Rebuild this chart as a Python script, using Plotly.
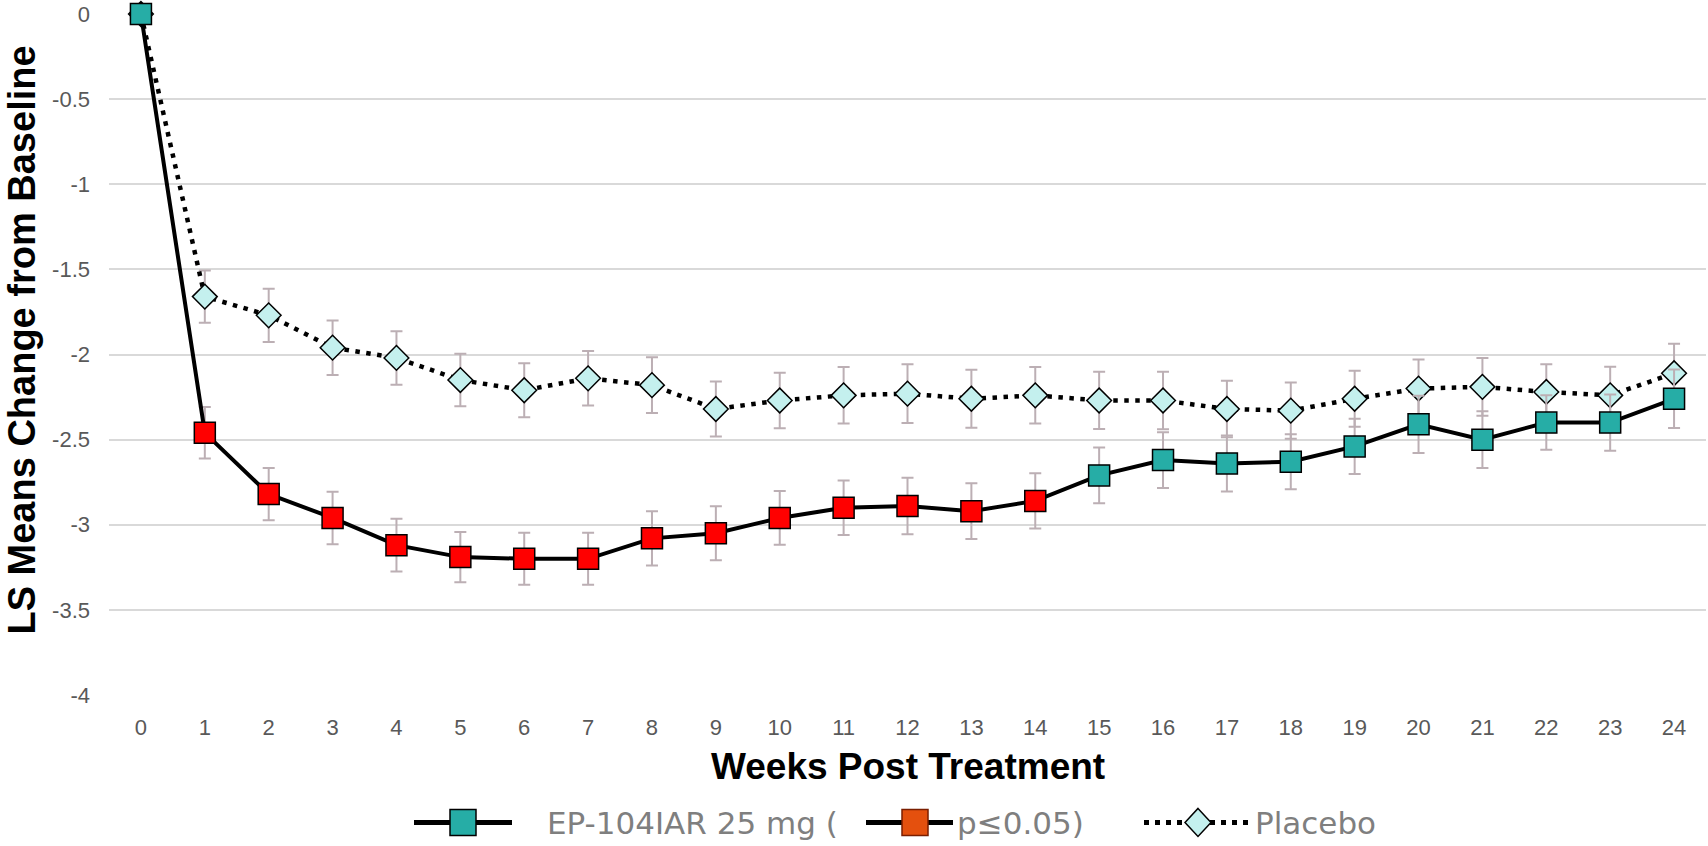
import plotly.graph_objects as go

# Weeks after treatment
weeks = list(range(25))

# EP-104IAR 25 mg: LS mean change from baseline and standard error
drug_mean = [0, -2.46, -2.82, -2.96, -3.12, -3.19, -3.20, -3.20, -3.08, -3.05,
             -2.96, -2.90, -2.89, -2.92, -2.86, -2.71, -2.62, -2.64, -2.63, -2.54,
             -2.41, -2.50, -2.40, -2.40, -2.26]
drug_se = [0, 0.151, 0.153, 0.154, 0.155, 0.148, 0.153, 0.153, 0.159, 0.158,
           0.158, 0.160, 0.166, 0.164, 0.162, 0.164, 0.164, 0.164, 0.162, 0.162,
           0.168, 0.166, 0.160, 0.165, 0.172]
# Weeks where the difference versus placebo reached p<=0.05
significant = [False] + [True] * 14 + [False] * 10

# Placebo: LS mean change from baseline and standard error
placebo_mean = [0, -1.66, -1.77, -1.96, -2.02, -2.15, -2.21, -2.14, -2.18, -2.32,
                -2.27, -2.24, -2.23, -2.26, -2.24, -2.27, -2.27, -2.32, -2.33, -2.26,
                -2.20, -2.19, -2.22, -2.24, -2.11]
placebo_se = [0, 0.154, 0.156, 0.160, 0.157, 0.154, 0.158, 0.160, 0.164, 0.162,
              0.163, 0.166, 0.172, 0.170, 0.166, 0.168, 0.169, 0.166, 0.165, 0.165,
              0.170, 0.170, 0.163, 0.168, 0.173]

y_ticks = [0, -0.5, -1, -1.5, -2, -2.5, -3, -3.5, -4]

# Legend labels
legend_labels = ["EP-104IAR 25 mg (", "p≤0.05)", "Placebo"]

TEAL = "#26ADA6"
RED = "#FF0000"
LEGEND_RED = "#E4500E"
PALE = "#C4F0EE"
ERR = "#BCAFB4"
FONT = "Liberation Sans, Arial, sans-serif"
LEGEND_FONT = "DejaVu Sans, Liberation Sans, sans-serif"

# Figure geometry (pixels)
W, H = 1708, 846
ML, MR, MT, MB = 109, 2, 11, 151
PW, PH = W - ML - MR, H - MT - MB


def paper_x(px):
    return (px - ML) / PW


def paper_y(py):
    return (H - MB - py) / PH


fig = go.Figure()

fig.add_trace(go.Scatter(
    x=weeks, y=placebo_mean, name=legend_labels[2], mode="lines+markers",
    line=dict(color="black", width=4.5, dash="4.5px,6.5px"),
    marker=dict(symbol="diamond", size=19, color=PALE,
                line=dict(color="black", width=1.5)),
    error_y=dict(type="data", array=placebo_se, color=ERR, thickness=2, width=6),
    cliponaxis=False,
))

fig.add_trace(go.Scatter(
    x=weeks, y=drug_mean, name="EP-104IAR 25 mg", mode="lines+markers",
    line=dict(color="black", width=4),
    marker=dict(symbol="square", size=21,
                color=[RED if s else TEAL for s in significant],
                line=dict(color="black", width=1.5)),
    error_y=dict(type="data", array=drug_se, color=ERR, thickness=2, width=6),
    cliponaxis=False,
))

# Legend row below the axis title: keys drawn as shapes, labels as text
LEG_Y = 823
key_lines = [(414, 512, "solid"), (866, 953, "solid"), (1144, 1253, "5px,6px")]
key_centers = [463, 915, 1198]
label_x = [545, 955, 1253]

shapes = []
for x0, x1, dash in key_lines:
    shapes.append(dict(type="line", xref="paper", yref="paper",
                       x0=paper_x(x0), x1=paper_x(x1),
                       y0=paper_y(LEG_Y), y1=paper_y(LEG_Y),
                       line=dict(color="black", width=5, dash=dash)))
for cx, fill, edge in [(key_centers[0], TEAL, "black"),
                       (key_centers[1], LEGEND_RED, "#7A1E00")]:
    shapes.append(dict(type="rect", xref="paper", yref="paper",
                       xsizemode="pixel", ysizemode="pixel",
                       xanchor=paper_x(cx), yanchor=paper_y(LEG_Y),
                       x0=-13, x1=13, y0=-13, y1=13,
                       fillcolor=fill, line=dict(color=edge, width=1.5)))
shapes.append(dict(type="path", xref="paper", yref="paper",
                   xsizemode="pixel", ysizemode="pixel",
                   xanchor=paper_x(key_centers[2]), yanchor=paper_y(LEG_Y),
                   path="M0,14 L13,0 L0,-14 L-13,0 Z",
                   fillcolor=PALE, line=dict(color="black", width=1.5)))

annotations = [
    dict(text="<b>Weeks Post Treatment</b>", xref="paper", yref="paper",
         x=0.5003, y=paper_y(767), xanchor="center", yanchor="middle",
         showarrow=False, font=dict(family=FONT, size=37, color="black")),
    dict(text="<b>LS Means Change from Baseline</b>", xref="paper", yref="paper",
         x=paper_x(22), y=paper_y(339), xanchor="center", yanchor="middle",
         textangle=-90, showarrow=False,
         font=dict(family=FONT, size=38, color="black")),
]
for lx, label in zip(label_x, legend_labels):
    annotations.append(dict(text=label, xref="paper", yref="paper",
                            x=paper_x(lx), y=paper_y(LEG_Y + 1),
                            xanchor="left", yanchor="middle", showarrow=False,
                            font=dict(family=LEGEND_FONT, size=31, color="#7F7F7F")))

fig.update_layout(
    width=W, height=H,
    margin=dict(l=ML, r=MR, t=MT, b=MB),
    paper_bgcolor="white", plot_bgcolor="white",
    font=dict(family=FONT, color="#595959"),
    showlegend=False,
    xaxis=dict(
        range=[-0.5, 24.5], tickmode="array", tickvals=weeks,
        ticktext=[str(w) for w in weeks],
        showgrid=False, zeroline=False, showline=False, ticks="",
        tickfont=dict(size=22, color="#595959"), ticklabelstandoff=17,
    ),
    yaxis=dict(
        range=[-4, 0], tickmode="array", tickvals=y_ticks,
        ticktext=[f"{v:g}" for v in y_ticks],
        showgrid=True, gridcolor="#D9D9D9", gridwidth=2,
        zeroline=False, showline=False, ticks="",
        tickfont=dict(size=22, color="#595959"), ticklabelstandoff=18,
        ticklabeloverflow="allow",
    ),
    shapes=shapes,
    annotations=annotations,
)

fig.write_html("out.html")
